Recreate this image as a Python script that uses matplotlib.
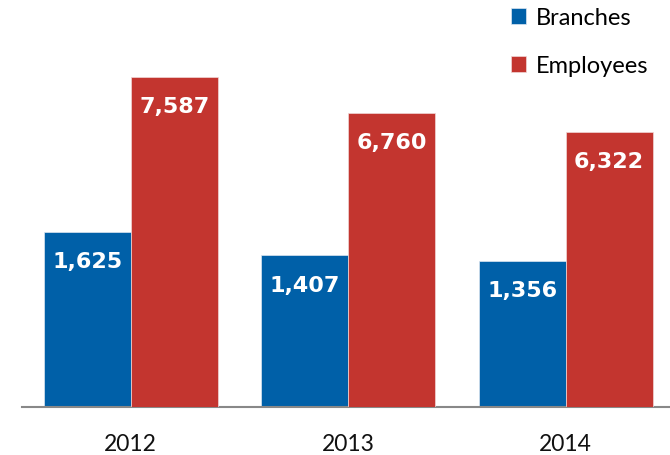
import matplotlib
matplotlib.use("Agg")
import matplotlib.pyplot as plt
import numpy as np

years = ["2012", "2013", "2014"]
branches = [1625, 1407, 1356]
employees = [7587, 6760, 6322]

blue = "#0060A8"
red = "#C3352F"

fig = plt.figure(figsize=(6.7, 4.56), dpi=100)
ax = fig.add_axes([22/670, 48/456, 648/670, 408/456])
ax2 = ax.twinx()

x = np.arange(len(years))
w = 0.4
b1 = ax.bar(x - w/2, branches, w, color=blue, edgecolor="#DDE6F0", linewidth=0.5, label="Branches")
b2 = ax2.bar(x + w/2, employees, w, color=red, edgecolor="#F0D8D8", linewidth=0.5, label="Employees")

ax.set_ylim(0, 3786)
ax2.set_ylim(0, 9384)
ax.set_xlim(-0.5, 2.48)

for a in (ax, ax2):
    for s in ("top", "right", "left"):
        a.spines[s].set_visible(False)
    a.set_yticks([])
ax2.spines["bottom"].set_visible(False)
ax.spines["bottom"].set_color("#888888")
ax.spines["bottom"].set_linewidth(1.5)

ax.set_xticks(x)
ax.set_xticklabels(years, fontfamily="Lato", fontsize=16.5, color="#111111")
ax.tick_params(axis="x", length=0, pad=19)

for bars, vals, a in ((b1, branches, ax), (b2, employees, ax2)):
    for r, v in zip(bars, vals):
        a.annotate(f"{v:,}", (r.get_x() + r.get_width()/2, r.get_height()),
                   xytext=(0, -21), textcoords="offset points",
                   ha="center", va="center", color="white",
                   fontsize=16, fontweight="bold", fontfamily="DejaVu Sans")

handles = [b1, b2]
fig.legend(handles, ["Branches", "Employees"], loc="upper left",
           bbox_to_anchor=(511/670, 1 - 8/456), frameon=False,
           prop={"family": "Lato", "size": 17}, handlelength=0.65, handleheight=0.65,
           handletextpad=0.4, labelspacing=1.15, borderpad=0, borderaxespad=0)

fig.savefig("out.png", dpi=100)
